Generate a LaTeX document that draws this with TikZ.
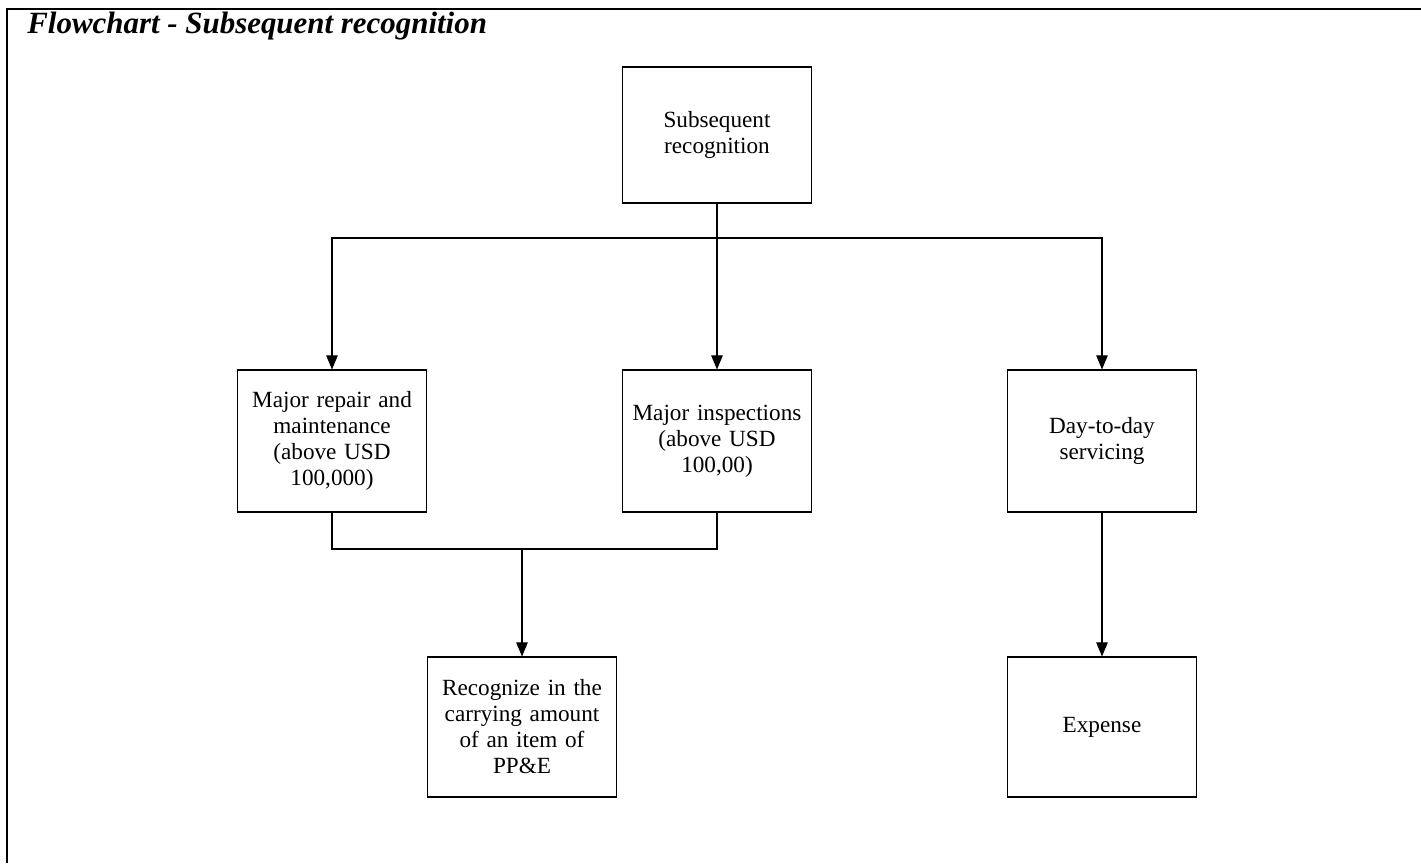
\documentclass[tikz,border=0pt]{standalone}
\usepackage{fontspec}
\setmainfont{Liberation Serif}
\usetikzlibrary{arrows.meta}

\begin{document}
\begin{tikzpicture}[x=0.02cm,y=-0.02cm,font=\fontsize{13.2}{14.8}\selectfont]
\tikzstyle{box}=[draw,line width=0.6pt,align=center,text width=3.6cm,minimum width=3.78cm,minimum height=2.8cm,inner sep=0pt];
\tikzstyle{con}=[-{Triangle[length=8pt,width=6.5pt]},line width=0.6pt];
\tikzstyle{lnk}=[line width=0.6pt];
\useasboundingbox (0,0) rectangle (1421,863);

% frame and title
\draw [line width=1.2pt] (7,863) -- (7,9) -- (1421,9);
\node [anchor=base west,inner sep=0pt,font=\fontsize{17.6}{20}\selectfont\bfseries\itshape] (t) at (27,33) {Flowchart - Subsequent recognition};

\node [box,minimum height=2.72cm] (v1) at (717,135) {Subsequent\\recognition};

\node [box,minimum height=2.84cm] (v2) at (332,441) {Major repair and\\maintenance\\(above USD\\100,000)};
\node [box,minimum height=2.84cm] (v3) at (717,441) {Major inspections\\(above USD\\100,00)};
\node [box,minimum height=2.84cm] (v4) at (1102,441) {Day-to-day\\servicing};

\node [box] (v5) at (522,727) {Recognize in the\\carrying amount\\of an item of\\PP\&E};
\node [box] (v6) at (1102,727) {Expense};

\coordinate (s) at (717,238);
\coordinate (m) at (522,549);

\draw [con] (v1) -- (v3);
\draw [con] (v3 |- s) -| (v2.north);
\draw [con] (v3 |- s) -| (v4.north);

\draw [lnk] (v2.south) |- (m) -| (v3.south);
\draw [con] (m) -- (v5);
\draw [con] (v4) -- (v6);
\end{tikzpicture}
\end{document}
